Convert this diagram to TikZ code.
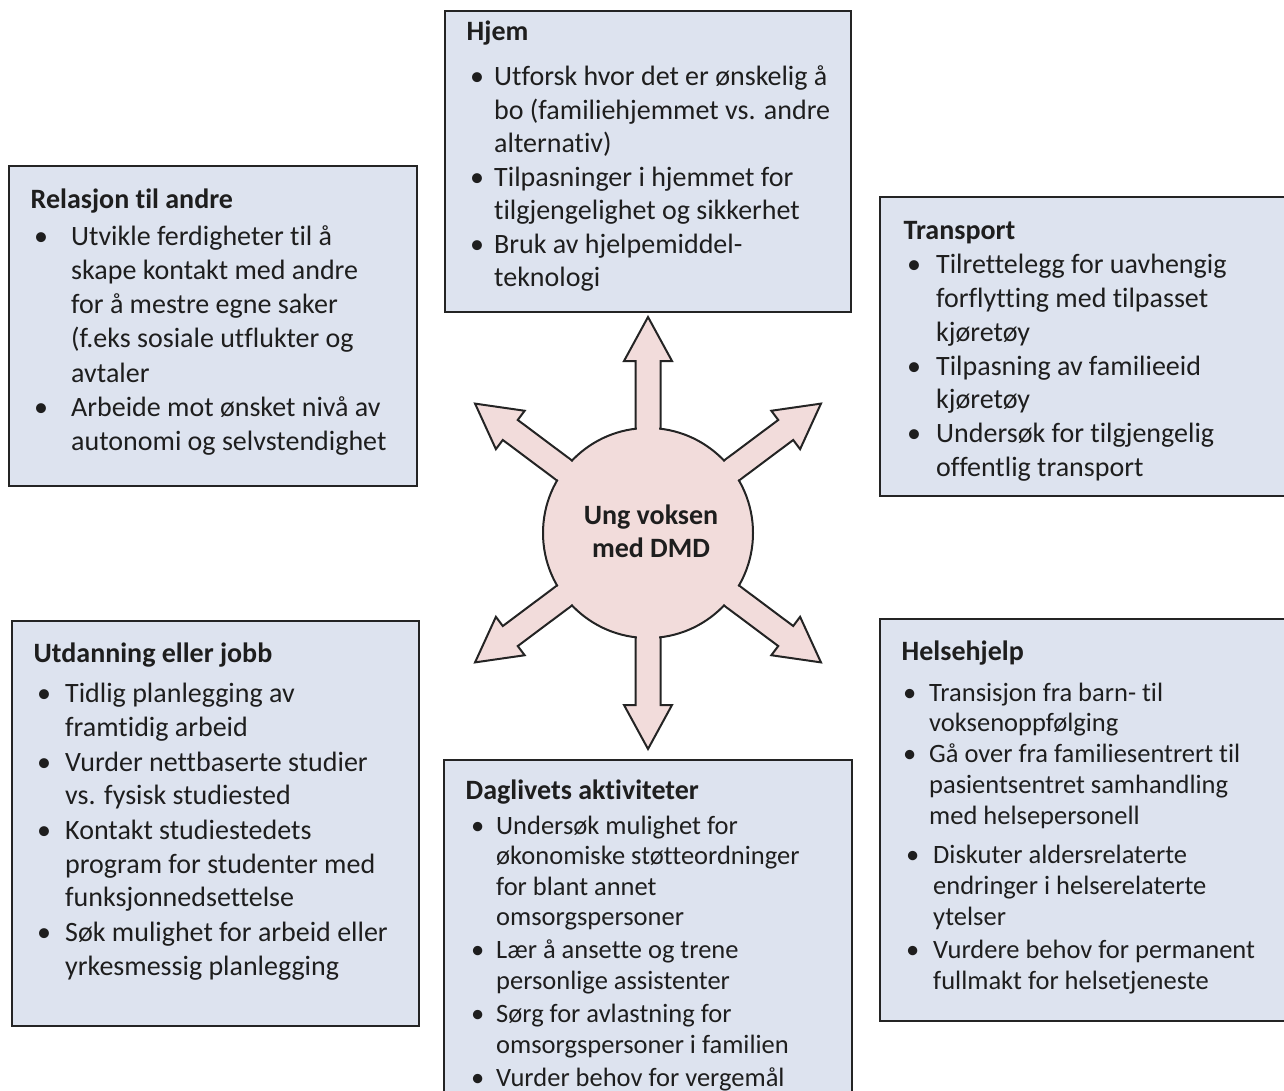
\documentclass[tikz,border=0pt]{standalone}
\usepackage{fontspec}
\setmainfont{Carlito}[Ligatures=NoCommon]

\definecolor{panelfill}{HTML}{DDE3EF}
\definecolor{inkline}{HTML}{242424}
\definecolor{hubfill}{HTML}{F2DCDB}
\definecolor{inktext}{HTML}{1E1E1E}

% bullet offset and text indent inside a panel, measured from the heading's left edge
\newlength\bulx
\newlength\txtx
\newcommand\heading[1]{\noindent\textbf{#1}}
\newcommand\entry[2][0pt]{\par\vspace{#1}\hangindent=\txtx\hangafter=1\noindent
  \makebox[\txtx][l]{\hspace*{\bulx}\textbullet}#2}
% panel text: font size, line distance, bullet offset, text indent, contents
\newcommand\paneltext[5]{\parbox[t]{420pt}{\fontsize{#1}{#2}\selectfont
  \setlength\bulx{#3}\setlength\txtx{#4}#5}}

\tikzset{
  panel/.style={draw=inkline, line width=2.4pt, fill=panelfill, rectangle,
    anchor=north west, inner sep=0pt},
  paneltxt/.style={anchor=base west, inner sep=0pt, text=inktext},
  spoke/.style={draw=inkline, line width=2pt, fill=hubfill, line join=miter},
}

\begin{document}
\begin{tikzpicture}[x=1pt, y=-1pt]
\useasboundingbox (0,0) rectangle (1284,1091);
\clip (0,0) rectangle (1284,1091);

% ---------- panels ----------
\node[panel, minimum width=406pt, minimum height=301pt] (hjem) at (444,10) {};
\node[panel, minimum width=408pt, minimum height=320pt] (relasjon) at (8,165) {};
\node[panel, minimum width=420pt, minimum height=299pt] (transport) at (879,196) {};
\node[panel, minimum width=407pt, minimum height=405pt] (utdanning) at (11,620) {};
\node[panel, minimum width=408pt, minimum height=360pt] (daglivet) at (443,759) {};
\node[panel, minimum width=420pt, minimum height=402pt] (helse) at (879,618) {};

% ---------- panel texts ----------
\node[paneltxt] (hjemtxt) at (466.5,41) {\paneltext{28}{33.5}{3.5pt}{27.5pt}{%
  \heading{Hjem}
  \entry[11.5pt]{Utforsk hvor det er ønskelig å\\bo (familiehjemmet vs. andre\\alternativ)}
  \entry{Tilpasninger i hjemmet for\\tilgjengelighet og sikkerhet}
  \entry{Bruk av hjelpemiddel-\\teknologi}}};

\node[paneltxt] (relasjontxt) at (30.5,209) {\paneltext{28}{34}{3.5pt}{40.5pt}{%
  \heading{Relasjon til andre}
  \entry[3pt]{Utvikle ferdigheter til å\\skape kontakt med andre\\for å mestre egne saker\\(f.eks sosiale utflukter og\\avtaler}
  \entry{Arbeide mot ønsket nivå av\\autonomi og selvstendighet}}};

\node[paneltxt] (transporttxt) at (903.5,240) {\paneltext{28}{33.8}{3.5pt}{32.5pt}{%
  \heading{Transport}
  \entry{Tilrettelegg for uavhengig\\forflytting med tilpasset\\kjøretøy}
  \entry{Tilpasning av familieeid\\kjøretøy}
  \entry{Undersøk for tilgjengelig\\offentlig transport}}};

\node[paneltxt] (utdanningtxt) at (33.5,662.5) {\paneltext{28}{33.9}{3.5pt}{31.5pt}{%
  \heading{Utdanning eller jobb}
  \entry[6.5pt]{Tidlig planlegging av\\framtidig arbeid}
  \entry[0.3pt]{Vurder nettbaserte studier\\vs. fysisk studiested}
  \entry[0.3pt]{Kontakt studiestedets\\program for studenter med\\funksjonnedsettelse}
  \entry[0.3pt]{Søk mulighet for arbeid eller\\yrkesmessig planlegging}}};

\node[paneltxt] (daglivettxt) at (465.5,799) {\paneltext{26.5}{30.6}{5.5pt}{30.5pt}{%
  \heading{\fontsize{28}{30.6}\selectfont Daglivets aktiviteter}
  \entry[4.4pt]{Undersøk mulighet for\\økonomiske støtteordninger\\for blant annet\\omsorgspersoner}
  \entry[2.5pt]{Lær å ansette og trene\\personlige assistenter}
  \entry[2.5pt]{Sørg for avlastning for\\omsorgspersoner i familien}
  \entry[2.5pt]{Vurder behov for vergemål}}};

\node[paneltxt] (helsetxt) at (901.5,660) {\paneltext{26.5}{30.8}{1.5pt}{27.5pt}{%
  \heading{\fontsize{28}{30.8}\selectfont Helsehjelp}
  \entry[10.2pt]{Transisjon fra barn- til\\voksenoppfølging}
  \entry[0.3pt]{Gå over fra familiesentrert til\\pasientsentret samhandling\\med helsepersonell}
  \setlength\bulx{4.5pt}\setlength\txtx{31.5pt}%
  \entry[8.5pt]{Diskuter aldersrelaterte\\endringer i helserelaterte\\ytelser}
  \entry[2pt]{Vurdere behov for permanent\\fullmakt for helsetjeneste}}};

% ---------- hub with six spokes ----------
\coordinate (hubc) at (648,533);
\foreach \a in {90,270,36.8,143.2,216.8,323.2}{
  \begin{scope}[shift={(hubc)}, rotate=\a]
    \path[spoke] (60,-12.5) -- (172,-12.5) -- (172,-24) -- (216,0)
      -- (172,24) -- (172,12.5) -- (60,12.5) -- cycle;
  \end{scope}
}
\node[circle, draw=inkline, line width=2pt, fill=hubfill, minimum size=210pt,
  inner sep=0pt] (hub) at (hubc) {};
% open the circle outline where each spoke leaves it
\foreach \a in {90,270,36.8,143.2,216.8,323.2}{
  \begin{scope}[shift={(hubc)}, rotate=\a]
    \fill[hubfill] (100,-11.2) rectangle (109,11.2);
  \end{scope}
}
\node[anchor=base, inner sep=0pt, text=inktext] (hubtxt) at (651,524) {\parbox[t]{220pt}{%
  \fontsize{28}{33}\selectfont\bfseries\centering Ung voksen\\med DMD}};
\end{tikzpicture}
\end{document}
